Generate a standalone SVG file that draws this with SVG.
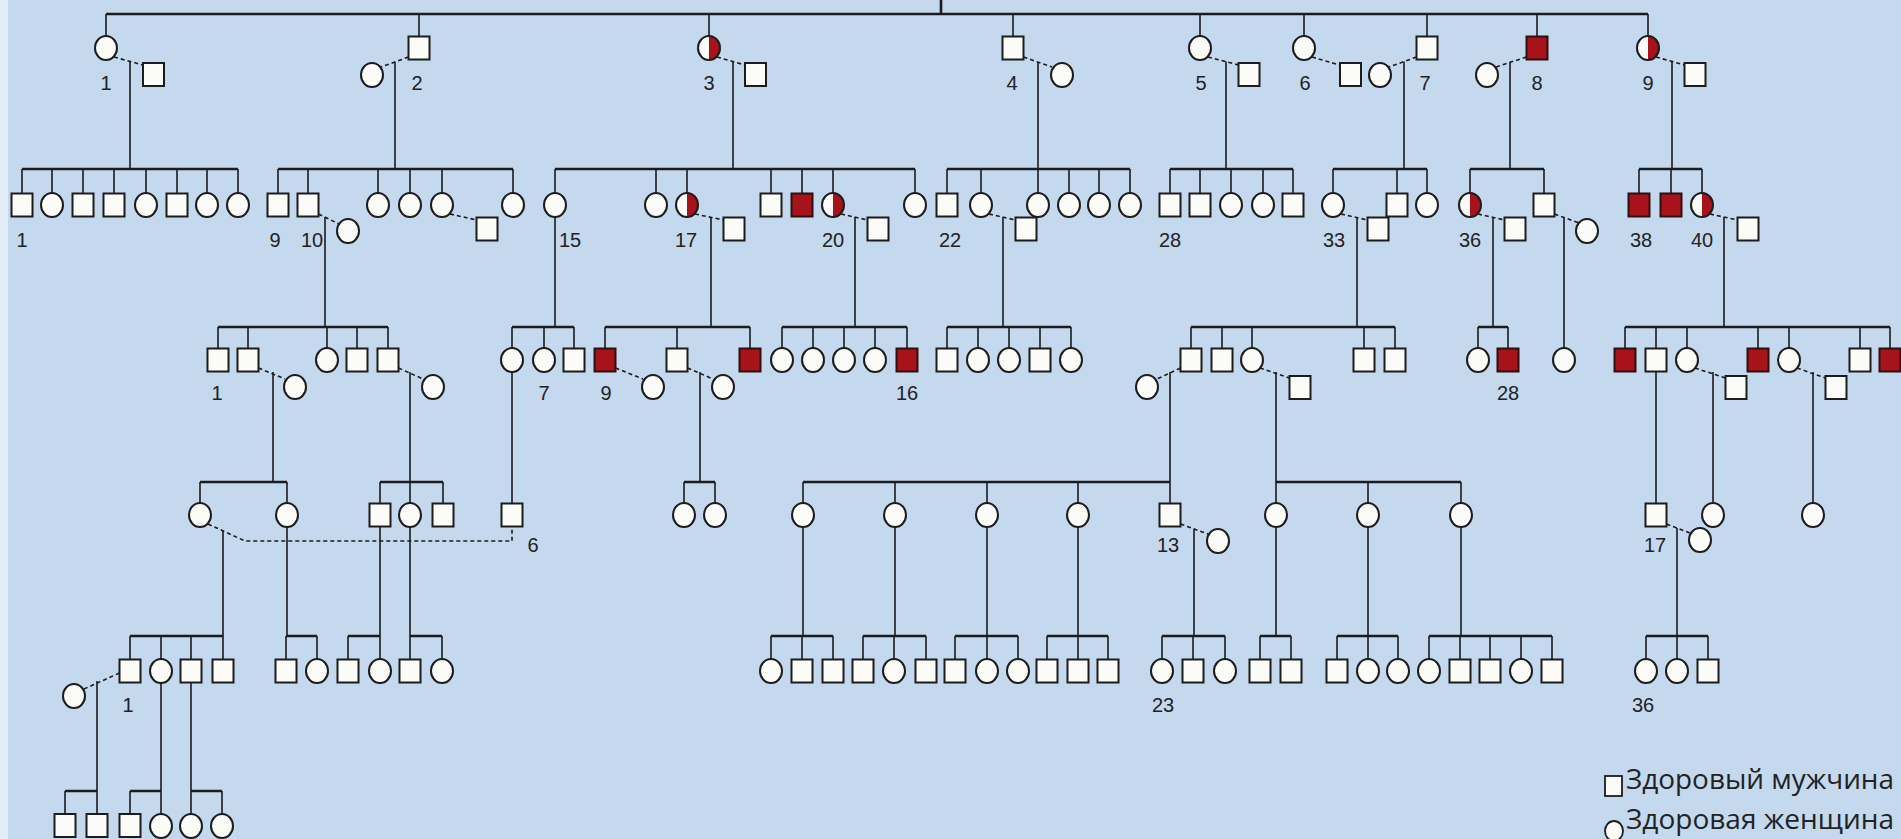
<svg xmlns="http://www.w3.org/2000/svg" xmlns:xlink="http://www.w3.org/1999/xlink" width="1901" height="839" viewBox="0 0 1901 839">
<style>
.c path{fill:none;stroke:#1c1c1c}
.d{stroke-width:1.6}
.s{stroke-width:2.6}
.k{stroke-width:1.6;stroke-dasharray:4 3}
.t{font-family:"Liberation Sans",Arial,sans-serif;font-size:20px;fill:#222;text-anchor:middle}
.lg{font-family:"Open Sans","DejaVu Sans",sans-serif;font-size:28px;fill:#222}
</style>
<defs>
<rect id="M" x="-10.5" y="-11.5" width="21" height="23" fill="#fbfbf7" stroke="#1c1c1c" stroke-width="2"/>
<rect id="A" x="-10.5" y="-11.5" width="21" height="23" fill="#a8121a" stroke="#2a1010" stroke-width="2"/>
<ellipse id="F" rx="11" ry="12" fill="#fbfbf7" stroke="#1c1c1c" stroke-width="2"/>
<g id="H"><ellipse rx="11" ry="12" fill="#fbfbf7"/><path d="M0,-12A11,12 0 0 1 0,12Z" fill="#a8121a"/><ellipse rx="11" ry="12" fill="none" stroke="#1c1c1c" stroke-width="2"/></g>
</defs>
<rect width="1901" height="839" fill="#c4d8ee"/>
<rect width="8" height="839" fill="#e2ecf6"/>

<g id="connectors" class="c">
<path class="s" d="M106,14H1648M941,0V14"/>
<path class="d" d="M106,14V36M419,14V36.5M709,14V36M1013,14V36.5M1200,14V36M1304,14V36M1427,14V36.5M1537,14V36.5M1648,14V36"/>
<path class="k" d="M114,57L143,65M408.5,57L381,67M717,57L745,65M1023.5,57L1052,67M1208,57L1238.5,65M1312,57L1339.5,65M1416.5,57L1389,67M1526.5,57L1496,67M1656,57L1684.5,65"/>
<path class="d" d="M130,61.5V169M395,62V169M733,61V169M1038,62V169M1226,61.5V169M1404,61.5V169M1510,62V169M1672,61.5V169"/>
<path class="s" d="M22,169H238M278,169H513M555,169H915M947,169H1130M1170,169H1293M1333,169H1427M1470,169H1544M1639,169H1702"/>
<path class="d" d="M22,169V193M52,169V193M83,169V193M114,169V193M146,169V193M177,169V193M207,169V193M238,169V193M278,169V193M308,169V193M378,169V193M410,169V193M442,169V193M513,169V193M555,169V193M656,169V193M687,169V193M771,169V193M802,169V193M833,169V193M915,169V193M947,169V193M981,169V193M1038,169V193M1069,169V193M1099,169V193M1130,169V193M1170,169V193M1200,169V193M1231,169V193M1263,169V193M1293,169V193M1333,169V193M1397,169V193M1427,169V193M1470,169V193M1544,169V193M1639,169V193M1671,169V193M1702,169V193"/>
<path class="k" d="M318.5,214L339,224M450,214L476.5,220M695,214L723.5,220M841,214L867.5,220M989,214L1015.5,220M1341,214L1367.5,220M1478,214L1504.5,220M1554.5,214L1579,223M1710,214L1737.5,220"/>
<path class="d" d="M325,217V327M555,217V327M711,217V327M855,217V327M1003,217V327M1357,217V327M1493,217V327M1564,218V348M1724,217V327"/>
<path class="s" d="M218,327H388M512,327H574M605,327H750M782,327H907M947,327H1071M1191,327H1395M1478,327H1508M1625,327H1890"/>
<path class="d" d="M218,327V348M248,327V348M327,327V348M357,327V348M388,327V348M512,327V348M544,327V348M574,327V348M605,327V348M677,327V348M750,327V348M782,327V348M813,327V348M844,327V348M875,327V348M907,327V348M947,327V348M978,327V348M1009,327V348M1040,327V348M1071,327V348M1191,327V348M1222,327V348M1252,327V348M1364,327V348M1395,327V348M1478,327V348M1508,327V348M1625,327V348M1656,327V348M1687,327V348M1758,327V348M1789,327V348M1860,327V348M1890,327V348"/>
<path class="k" d="M258.5,368L285,379M398.5,368L423,379M615.5,368L643,379M687.5,368L713,379M1180.5,368L1157,379M1260,368L1289.5,378M1695,368L1725.5,378M1797,368L1825.5,378"/>
<path class="d" d="M273,372V482M410,372V482M700,372V482M1170,372V482M1276,372V482M1713,372V503M1813,372V503M512,372V503.5M1656,371.5V503.5"/>
<path class="s" d="M200,482H287M380,482H443M684,482H715M803,482H1170M1276,482H1461"/>
<path class="d" d="M200,482V503M287,482V503M380,482V503M410,482V503M443,482V503M684,482V503M715,482V503M803,482V503M895,482V503M987,482V503M1078,482V503M1170,482V503M1276,482V503M1368,482V503M1461,482V503"/>
<path class="k" d="M208,524L245,541H512V527M1180.5,524L1208,534M1666.5,524L1690,533"/>
<path class="d" d="M223,531V636M1194,529V636M1677,528V636M287,527V636M380,526.5V636M410,527V636M803,527V636M895,527V636M987,527V636M1078,527V636M1276,527V636M1368,527V636M1461,527V636"/>
<path class="s" d="M130,636H223M286,636H317M348,636H380M410,636H442M771,636H833M863,636H926M955,636H1018M1047,636H1108M1162,636H1225M1260,636H1291M1337,636H1398M1429,636H1552M1646,636H1708"/>
<path class="d" d="M130,636V659M161,636V659M191,636V659M223,636V659M286,636V659M317,636V659M348,636V659M380,636V659M410,636V659M442,636V659M771,636V659M802,636V659M833,636V659M863,636V659M894,636V659M926,636V659M955,636V659M987,636V659M1018,636V659M1047,636V659M1078,636V659M1108,636V659M1162,636V659M1193,636V659M1225,636V659M1260,636V659M1291,636V659M1337,636V659M1368,636V659M1398,636V659M1429,636V659M1460,636V659M1490,636V659M1521,636V659M1552,636V659M1646,636V659M1677,636V659M1708,636V659"/>
<path class="k" d="M119.5,673L84,689"/>
<path class="d" d="M97,681V791M161,683V791M191,682.5V791"/>
<path class="s" d="M65,791H97M130,791H161M191,791H222"/>
<path class="d" d="M65,791V814M97,791V814M130,791V814M161,791V814M191,791V814M222,791V814"/>
</g>

<g id="g1-1"><use href="#F" x="106" y="48"/></g>
<g id="g1-1s"><use href="#M" x="153.5" y="74.5"/></g>
<g id="g1-2"><use href="#M" x="419" y="48"/></g>
<g id="g1-2s"><use href="#F" x="372" y="75"/></g>
<g id="g1-3"><use href="#H" x="709" y="48"/></g>
<g id="g1-3s"><use href="#M" x="755.5" y="74.5"/></g>
<g id="g1-4"><use href="#M" x="1013" y="48"/></g>
<g id="g1-4s"><use href="#F" x="1062" y="75"/></g>
<g id="g1-5"><use href="#F" x="1200" y="48"/></g>
<g id="g1-5s"><use href="#M" x="1249" y="74.5"/></g>
<g id="g1-6"><use href="#F" x="1304" y="48"/></g>
<g id="g1-6s"><use href="#M" x="1350.5" y="74.5"/></g>
<g id="g1-7"><use href="#M" x="1427" y="48"/></g>
<g id="g1-7s"><use href="#F" x="1380" y="75"/></g>
<g id="g1-8"><use href="#A" x="1537" y="48"/></g>
<g id="g1-8s"><use href="#F" x="1487" y="75"/></g>
<g id="g1-9"><use href="#H" x="1648" y="48"/></g>
<g id="g1-9s"><use href="#M" x="1695" y="74.5"/></g>

<g id="g2-a1"><use href="#M" x="22" y="205"/></g>
<g id="g2-a2"><use href="#F" x="52" y="205"/></g>
<g id="g2-a3"><use href="#M" x="83" y="205"/></g>
<g id="g2-a4"><use href="#M" x="114" y="205"/></g>
<g id="g2-a5"><use href="#F" x="146" y="205"/></g>
<g id="g2-a6"><use href="#M" x="177" y="205"/></g>
<g id="g2-a7"><use href="#F" x="207" y="205"/></g>
<g id="g2-a8"><use href="#F" x="238" y="205"/></g>
<g id="g2-b1"><use href="#M" x="278" y="205"/></g>
<g id="g2-b2"><use href="#M" x="308" y="205"/></g>
<g id="g2-b2s"><use href="#F" x="348" y="231"/></g>
<g id="g2-b3"><use href="#F" x="378" y="205"/></g>
<g id="g2-b4"><use href="#F" x="410" y="205"/></g>
<g id="g2-b5"><use href="#F" x="442" y="205"/></g>
<g id="g2-b5s"><use href="#M" x="487" y="229"/></g>
<g id="g2-b6"><use href="#F" x="513" y="205"/></g>
<g id="g2-c1"><use href="#F" x="555" y="205"/></g>
<g id="g2-c2"><use href="#F" x="656" y="205"/></g>
<g id="g2-c3"><use href="#H" x="687" y="205"/></g>
<g id="g2-c3s"><use href="#M" x="734" y="229"/></g>
<g id="g2-c4"><use href="#M" x="771" y="205"/></g>
<g id="g2-c5"><use href="#A" x="802" y="205"/></g>
<g id="g2-c6"><use href="#H" x="833" y="205"/></g>
<g id="g2-c6s"><use href="#M" x="878" y="229"/></g>
<g id="g2-c7"><use href="#F" x="915" y="205"/></g>
<g id="g2-d1"><use href="#M" x="947" y="205"/></g>
<g id="g2-d2"><use href="#F" x="981" y="205"/></g>
<g id="g2-d2s"><use href="#M" x="1026" y="229"/></g>
<g id="g2-d3"><use href="#F" x="1038" y="205"/></g>
<g id="g2-d4"><use href="#F" x="1069" y="205"/></g>
<g id="g2-d5"><use href="#F" x="1099" y="205"/></g>
<g id="g2-d6"><use href="#F" x="1130" y="205"/></g>
<g id="g2-e1"><use href="#M" x="1170" y="205"/></g>
<g id="g2-e2"><use href="#M" x="1200" y="205"/></g>
<g id="g2-e3"><use href="#F" x="1231" y="205"/></g>
<g id="g2-e4"><use href="#F" x="1263" y="205"/></g>
<g id="g2-e5"><use href="#M" x="1293" y="205"/></g>
<g id="g2-f1"><use href="#F" x="1333" y="205"/></g>
<g id="g2-f1s"><use href="#M" x="1378" y="229"/></g>
<g id="g2-f2"><use href="#M" x="1397" y="205"/></g>
<g id="g2-f3"><use href="#F" x="1427" y="205"/></g>
<g id="g2-g1"><use href="#H" x="1470" y="205"/></g>
<g id="g2-g1s"><use href="#M" x="1515" y="229"/></g>
<g id="g2-g2"><use href="#M" x="1544" y="205"/></g>
<g id="g2-g2s"><use href="#F" x="1587" y="231"/></g>
<g id="g2-h1"><use href="#A" x="1639" y="205"/></g>
<g id="g2-h2"><use href="#A" x="1671" y="205"/></g>
<g id="g2-h3"><use href="#H" x="1702" y="205"/></g>
<g id="g2-h3s"><use href="#M" x="1748" y="229"/></g>

<g id="g3-a1"><use href="#M" x="218" y="360"/></g>
<g id="g3-a2"><use href="#M" x="248" y="360"/></g>
<g id="g3-a2s"><use href="#F" x="295" y="387"/></g>
<g id="g3-a3"><use href="#F" x="327" y="360"/></g>
<g id="g3-a4"><use href="#M" x="357" y="360"/></g>
<g id="g3-a5"><use href="#M" x="388" y="360"/></g>
<g id="g3-a5s"><use href="#F" x="433" y="387"/></g>
<g id="g3-b1"><use href="#F" x="512" y="360"/></g>
<g id="g3-b2"><use href="#F" x="544" y="360"/></g>
<g id="g3-b3"><use href="#M" x="574" y="360"/></g>
<g id="g3-c1"><use href="#A" x="605" y="360"/></g>
<g id="g3-c1s"><use href="#F" x="653" y="387"/></g>
<g id="g3-c2"><use href="#M" x="677" y="360"/></g>
<g id="g3-c2s"><use href="#F" x="723" y="387"/></g>
<g id="g3-c3"><use href="#A" x="750" y="360"/></g>
<g id="g3-d1"><use href="#F" x="782" y="360"/></g>
<g id="g3-d2"><use href="#F" x="813" y="360"/></g>
<g id="g3-d3"><use href="#F" x="844" y="360"/></g>
<g id="g3-d4"><use href="#F" x="875" y="360"/></g>
<g id="g3-d5"><use href="#A" x="907" y="360"/></g>
<g id="g3-e1"><use href="#M" x="947" y="360"/></g>
<g id="g3-e2"><use href="#F" x="978" y="360"/></g>
<g id="g3-e3"><use href="#F" x="1009" y="360"/></g>
<g id="g3-e4"><use href="#M" x="1040" y="360"/></g>
<g id="g3-e5"><use href="#F" x="1071" y="360"/></g>
<g id="g3-f1"><use href="#M" x="1191" y="360"/></g>
<g id="g3-f1s"><use href="#F" x="1147" y="387"/></g>
<g id="g3-f2"><use href="#M" x="1222" y="360"/></g>
<g id="g3-f3"><use href="#F" x="1252" y="360"/></g>
<g id="g3-f3s"><use href="#M" x="1300" y="387.5"/></g>
<g id="g3-f4"><use href="#M" x="1364" y="360"/></g>
<g id="g3-f5"><use href="#M" x="1395" y="360"/></g>
<g id="g3-g1"><use href="#F" x="1478" y="360"/></g>
<g id="g3-g2"><use href="#A" x="1508" y="360"/></g>
<g id="g3-h1"><use href="#F" x="1564" y="360"/></g>
<g id="g3-i1"><use href="#A" x="1625" y="360"/></g>
<g id="g3-i2"><use href="#M" x="1656" y="360"/></g>
<g id="g3-i3"><use href="#F" x="1687" y="360"/></g>
<g id="g3-i3s"><use href="#M" x="1736" y="387.5"/></g>
<g id="g3-i4"><use href="#A" x="1758" y="360"/></g>
<g id="g3-i5"><use href="#F" x="1789" y="360"/></g>
<g id="g3-i5s"><use href="#M" x="1836" y="387.5"/></g>
<g id="g3-i6"><use href="#M" x="1860" y="360"/></g>
<g id="g3-i7"><use href="#A" x="1890" y="360"/></g>

<g id="g4-a1"><use href="#F" x="200" y="515"/></g>
<g id="g4-a2"><use href="#F" x="287" y="515"/></g>
<g id="g4-b1"><use href="#M" x="380" y="515"/></g>
<g id="g4-b2"><use href="#F" x="410" y="515"/></g>
<g id="g4-b3"><use href="#M" x="443" y="515"/></g>
<g id="g4-c1"><use href="#M" x="512" y="515"/></g>
<g id="g4-d1"><use href="#F" x="684" y="515"/></g>
<g id="g4-d2"><use href="#F" x="715" y="515"/></g>
<g id="g4-e1"><use href="#F" x="803" y="515"/></g>
<g id="g4-e2"><use href="#F" x="895" y="515"/></g>
<g id="g4-e3"><use href="#F" x="987" y="515"/></g>
<g id="g4-e4"><use href="#F" x="1078" y="515"/></g>
<g id="g4-e5"><use href="#M" x="1170" y="515"/></g>
<g id="g4-e5s"><use href="#F" x="1218" y="541"/></g>
<g id="g4-f1"><use href="#F" x="1276" y="515"/></g>
<g id="g4-f2"><use href="#F" x="1368" y="515"/></g>
<g id="g4-f3"><use href="#F" x="1461" y="515"/></g>
<g id="g4-g1"><use href="#M" x="1656" y="515"/></g>
<g id="g4-g1s"><use href="#F" x="1700" y="540"/></g>
<g id="g4-h1"><use href="#F" x="1713" y="515"/></g>
<g id="g4-i1"><use href="#F" x="1813" y="515"/></g>

<g id="g5-a1"><use href="#M" x="130" y="671"/></g>
<g id="g5-a1s"><use href="#F" x="74" y="696"/></g>
<g id="g5-a2"><use href="#F" x="161" y="671"/></g>
<g id="g5-a3"><use href="#M" x="191" y="671"/></g>
<g id="g5-a4"><use href="#M" x="223" y="671"/></g>
<g id="g5-b1"><use href="#M" x="286" y="671"/></g>
<g id="g5-b2"><use href="#F" x="317" y="671"/></g>
<g id="g5-c1"><use href="#M" x="348" y="671"/></g>
<g id="g5-c2"><use href="#F" x="380" y="671"/></g>
<g id="g5-d1"><use href="#M" x="410" y="671"/></g>
<g id="g5-d2"><use href="#F" x="442" y="671"/></g>
<g id="g5-e1"><use href="#F" x="771" y="671"/></g>
<g id="g5-e2"><use href="#M" x="802" y="671"/></g>
<g id="g5-e3"><use href="#M" x="833" y="671"/></g>
<g id="g5-f1"><use href="#M" x="863" y="671"/></g>
<g id="g5-f2"><use href="#F" x="894" y="671"/></g>
<g id="g5-f3"><use href="#M" x="926" y="671"/></g>
<g id="g5-g1"><use href="#M" x="955" y="671"/></g>
<g id="g5-g2"><use href="#F" x="987" y="671"/></g>
<g id="g5-g3"><use href="#F" x="1018" y="671"/></g>
<g id="g5-h1"><use href="#M" x="1047" y="671"/></g>
<g id="g5-h2"><use href="#M" x="1078" y="671"/></g>
<g id="g5-h3"><use href="#M" x="1108" y="671"/></g>
<g id="g5-i1"><use href="#F" x="1162" y="671"/></g>
<g id="g5-i2"><use href="#M" x="1193" y="671"/></g>
<g id="g5-i3"><use href="#F" x="1225" y="671"/></g>
<g id="g5-j1"><use href="#M" x="1260" y="671"/></g>
<g id="g5-j2"><use href="#M" x="1291" y="671"/></g>
<g id="g5-k1"><use href="#M" x="1337" y="671"/></g>
<g id="g5-k2"><use href="#F" x="1368" y="671"/></g>
<g id="g5-k3"><use href="#F" x="1398" y="671"/></g>
<g id="g5-l1"><use href="#F" x="1429" y="671"/></g>
<g id="g5-l2"><use href="#M" x="1460" y="671"/></g>
<g id="g5-l3"><use href="#M" x="1490" y="671"/></g>
<g id="g5-l4"><use href="#F" x="1521" y="671"/></g>
<g id="g5-l5"><use href="#M" x="1552" y="671"/></g>
<g id="g5-m1"><use href="#F" x="1646" y="671"/></g>
<g id="g5-m2"><use href="#F" x="1677" y="671"/></g>
<g id="g5-m3"><use href="#M" x="1708" y="671"/></g>

<g id="g6-a1"><use href="#M" x="65" y="825.5"/></g>
<g id="g6-a2"><use href="#M" x="97" y="825.5"/></g>
<g id="g6-b1"><use href="#M" x="130" y="825.5"/></g>
<g id="g6-b2"><use href="#F" x="161" y="826"/></g>
<g id="g6-c1"><use href="#F" x="191" y="826"/></g>
<g id="g6-c2"><use href="#F" x="222" y="826"/></g>

<g id="labels" class="t">
<text x="106" y="90">1</text><text x="417" y="90">2</text><text x="709" y="90">3</text><text x="1012" y="90">4</text><text x="1201" y="90">5</text><text x="1305" y="90">6</text><text x="1425" y="90">7</text><text x="1537" y="90">8</text><text x="1648" y="90">9</text>
<text x="22" y="247">1</text><text x="275" y="247">9</text><text x="312" y="247">10</text><text x="570" y="247">15</text><text x="686" y="247">17</text><text x="833" y="247">20</text><text x="950" y="247">22</text><text x="1170" y="247">28</text><text x="1334" y="247">33</text><text x="1470" y="247">36</text><text x="1641" y="247">38</text><text x="1702" y="247">40</text>
<text x="217" y="400">1</text><text x="544" y="400">7</text><text x="606" y="400">9</text><text x="907" y="400">16</text><text x="1508" y="400">28</text>
<text x="533" y="552">6</text><text x="1168" y="552">13</text><text x="1655" y="552">17</text>
<text x="128" y="712">1</text><text x="1163" y="712">23</text><text x="1643" y="712">36</text>
</g>

<g id="legend">
<rect x="1605" y="776" width="17" height="20" fill="#fbfbf7" stroke="#1c1c1c" stroke-width="1.8"/>
<ellipse cx="1614" cy="831" rx="9" ry="10" fill="#fbfbf7" stroke="#1c1c1c" stroke-width="1.8"/>
<text class="lg" x="1626" y="789" textLength="268" lengthAdjust="spacingAndGlyphs">Здоровый мужчина</text>
<text class="lg" x="1626" y="829" textLength="268" lengthAdjust="spacingAndGlyphs">Здоровая женщина</text>
</g>
</svg>
